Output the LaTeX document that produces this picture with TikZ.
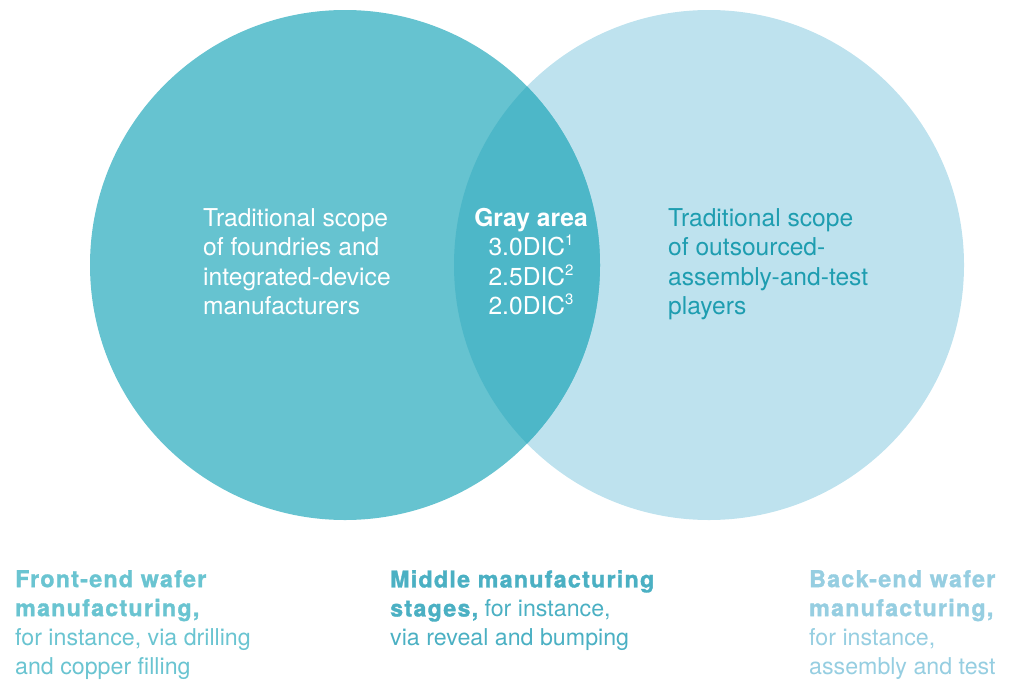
\documentclass[tikz,border=0pt]{standalone}
\usepackage{fontspec}
\setmainfont{TeX Gyre Heros}
\newfontface\heavyfont{TeX Gyre Heros Bold}[LetterSpace=5.5, FakeBold=1.4]
\definecolor{leftc}{HTML}{66C3D0}
\definecolor{rightc}{HTML}{BEE2EE}
\definecolor{lensc}{HTML}{4DB7C8}
\definecolor{righttxt}{HTML}{1E9DB0}
\definecolor{fronttxt}{HTML}{6AC4D1}
\definecolor{midtxt}{HTML}{4BB0C3}
\definecolor{backtxt}{HTML}{96CEE1}
\newcommand{\hv}[1]{{\heavyfont #1}}
\newcommand{\sups}[1]{\raisebox{0.42em}{\fontsize{15}{15}\selectfont #1}}
\tikzset{
  circtext/.style={inner sep=0pt, align=left, anchor=north west, font=\fontsize{24.6}{29.5}\selectfont},
  captext/.style={inner sep=0pt, align=left, anchor=north west, font=\fontsize{23.2}{29}\selectfont},
}
\begin{document}
\begin{tikzpicture}[x=1pt,y=-1pt]
\useasboundingbox (0,0) rectangle (1011,680);
\coordinate (cl) at (345,265);
\coordinate (cr) at (709,265);
\fill[rightc] (cr) circle[radius=255];
\fill[leftc] (cl) circle[radius=255];
\begin{scope}
  \clip (cl) circle[radius=255];
  \fill[lensc] (cr) circle[radius=255];
\end{scope}
\node[circtext, text=white] (lt) at (203,208) {Traditional scope\\of foundries and\\integrated-device\\manufacturers};
\node[circtext, text=righttxt] (rt) at (668,208) {Traditional scope\\of outsourced-\\assembly-and-test\\players};
\node[circtext, text=white, align=center, anchor=north] (gt) at (531,208) {\textbf{Gray area}\\3.0DIC\sups{1}\\2.5DIC\sups{2}\\2.0DIC\sups{3}};
\node[captext, text=fronttxt] (fe) at (15,570) {\hv{Front-end wafer}\\\hv{manufacturing,}\\for instance, via drilling\\and copper filling};
\node[captext, text=midtxt] (me) at (390,570) {\hv{Middle manufacturing}\\\hv{stages,} for instance,\\via reveal and bumping};
\node[captext, text=backtxt] (be) at (809,570) {\hv{Back-end wafer}\\\hv{manufacturing,}\\for instance,\\assembly and test};
\end{tikzpicture}
\end{document}
